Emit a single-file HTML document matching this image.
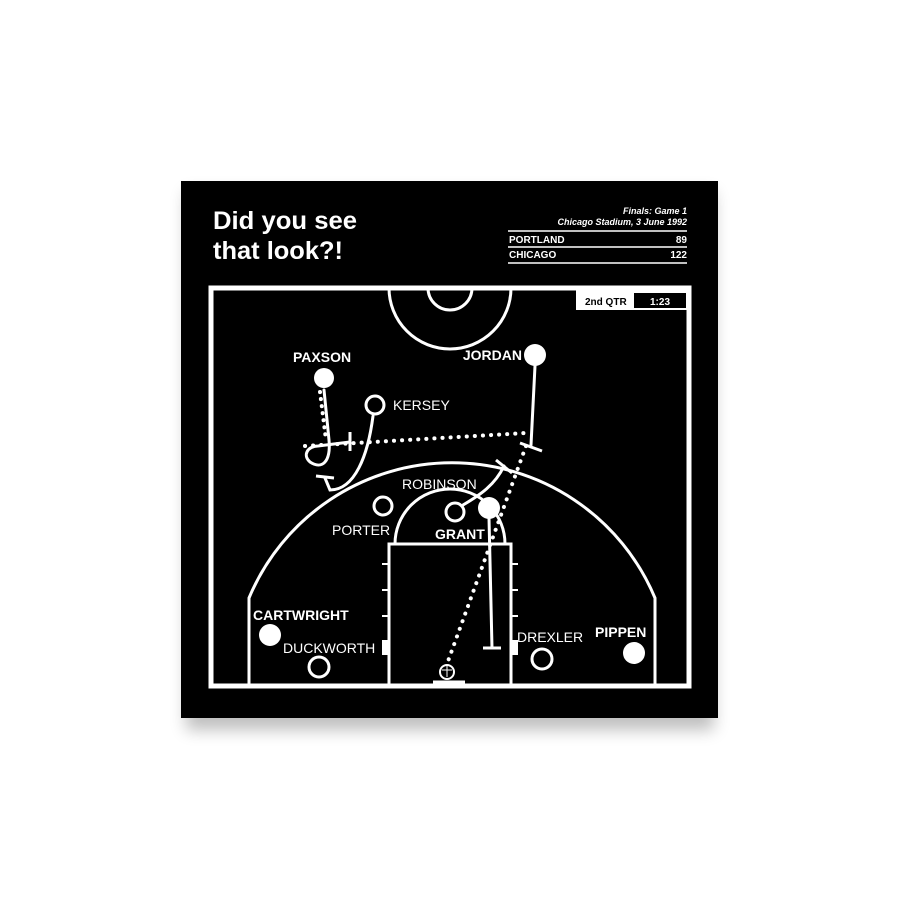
<!DOCTYPE html>
<html><head><style>
body{margin:0;background:#fff;width:900px;height:900px;overflow:hidden}
svg{display:block}
text{font-family:"Liberation Sans",sans-serif;fill:#fff}
</style></head><body>
<svg width="900" height="900" viewBox="0 0 900 900">
<defs><filter id="sh" x="-10%" y="-10%" width="120%" height="130%"><feGaussianBlur stdDeviation="8"/></filter></defs>
<rect x="186" y="192" width="528" height="538" fill="#000" opacity="0.25" filter="url(#sh)"/>
<rect x="181" y="181" width="537" height="537" fill="#000"/>
<text x="213" y="229" font-size="25" font-weight="bold" textLength="144" lengthAdjust="spacingAndGlyphs">Did you see</text>
<text x="213" y="259" font-size="25" font-weight="bold" textLength="130" lengthAdjust="spacingAndGlyphs">that look?!</text>
<text x="687" y="214" font-size="9" font-style="italic" font-weight="bold" text-anchor="end">Finals: Game 1</text>
<text x="687" y="225" font-size="9" font-style="italic" font-weight="bold" text-anchor="end">Chicago Stadium, 3 June 1992</text>
<g stroke="#fff" stroke-width="1.5"><line x1="508" y1="231" x2="687" y2="231"/><line x1="508" y1="247" x2="687" y2="247"/><line x1="508" y1="263" x2="687" y2="263"/></g>
<text x="509" y="243" font-size="10" font-weight="bold">PORTLAND</text><text x="687" y="243" font-size="10" font-weight="bold" text-anchor="end">89</text>
<text x="509" y="258" font-size="10" font-weight="bold">CHICAGO</text><text x="687" y="258" font-size="10" font-weight="bold" text-anchor="end">122</text>
<g fill="none" stroke="#fff">
<rect x="211" y="288" width="478" height="398" stroke-width="5"/>
<path d="M389,288 A61,61 0 0 0 511,288" stroke-width="3"/>
<path d="M428,288 A22,22 0 0 0 472,288" stroke-width="3"/>
<path d="M249,686 V598 A220,220 0 0 1 655,598 V686" stroke-width="3"/>
<rect x="389" y="544" width="122" height="142" stroke-width="3"/>
<path d="M395,544 A55,55 0 0 1 505,544" stroke-width="3"/>
<g stroke-width="2"><path d="M382,564h7M382,590h7M382,616h7M511,564h7M511,590h7M511,616h7"/></g>
<path d="M433,682h32" stroke-width="3"/>
</g>
<rect x="382" y="640" width="6" height="15" fill="#fff"/><rect x="512" y="640" width="6" height="15" fill="#fff"/>
<circle cx="447" cy="672" r="7" fill="none" stroke="#fff" stroke-width="2"/>
<path d="M442,670h10M447,666v11" stroke="#fff" stroke-width="1"/>
<rect x="576" y="289" width="113" height="21" fill="#fff"/>
<rect x="634" y="293" width="52" height="15" fill="#000"/>
<text x="585" y="305" font-size="10" font-weight="bold" style="fill:#000">2nd QTR</text>
<text x="660" y="305" font-size="10" font-weight="bold" text-anchor="middle">1:23</text>
<g fill="none" stroke="#fff" stroke-linecap="round">
<path d="M320,392 L326,440" stroke-width="4" stroke-dasharray="0.1 7"/>
<path d="M305,446 L526,433" stroke-width="4" stroke-dasharray="0.1 8"/>
<path d="M526,446 L447,664" stroke-width="4" stroke-dasharray="0.1 8"/>
<path d="M324,390 L329,440 C331,462 322,470 310,462 C302,455 308,446 318,446 L350,442" stroke-width="3"/>
<path d="M350,432 V451" stroke-width="3" stroke-linecap="butt"/>
<path d="M373,416 C368,455 355,490 330,490 L325,478" stroke-width="3"/>
<path d="M316,476 L334,478" stroke-width="3" stroke-linecap="butt"/>
<path d="M535,366 L531,445" stroke-width="3"/>
<path d="M520,443 L542,451" stroke-width="3" stroke-linecap="butt"/>
<path d="M463,505 C480,495 495,485 504,466" stroke-width="3"/>
<path d="M496,460 L512,473" stroke-width="3" stroke-linecap="butt"/>
<path d="M489,518 L492,648" stroke-width="3"/>
<path d="M483,648 H501" stroke-width="3" stroke-linecap="butt"/>
</g>
<g fill="#fff">
<circle cx="324" cy="378" r="10"/><circle cx="535" cy="355" r="11"/><circle cx="489" cy="508" r="11"/>
<circle cx="270" cy="635" r="11"/><circle cx="634" cy="653" r="11"/>
</g>
<g fill="none" stroke="#fff" stroke-width="3">
<circle cx="375" cy="405" r="9"/><circle cx="383" cy="506" r="9"/><circle cx="455" cy="512" r="9"/>
<circle cx="319" cy="667" r="10"/><circle cx="542" cy="659" r="10"/>
</g>
<g font-size="14">
<text x="293" y="362" font-weight="bold">PAXSON</text>
<text x="522" y="360" font-weight="bold" text-anchor="end">JORDAN</text>
<text x="393" y="410">KERSEY</text>
<text x="402" y="489">ROBINSON</text>
<text x="332" y="535">PORTER</text>
<text x="435" y="539" font-weight="bold">GRANT</text>
<text x="253" y="620" font-weight="bold">CARTWRIGHT</text>
<text x="283" y="653">DUCKWORTH</text>
<text x="517" y="642">DREXLER</text>
<text x="595" y="637" font-weight="bold">PIPPEN</text>
</g>
</svg>
</body></html>
